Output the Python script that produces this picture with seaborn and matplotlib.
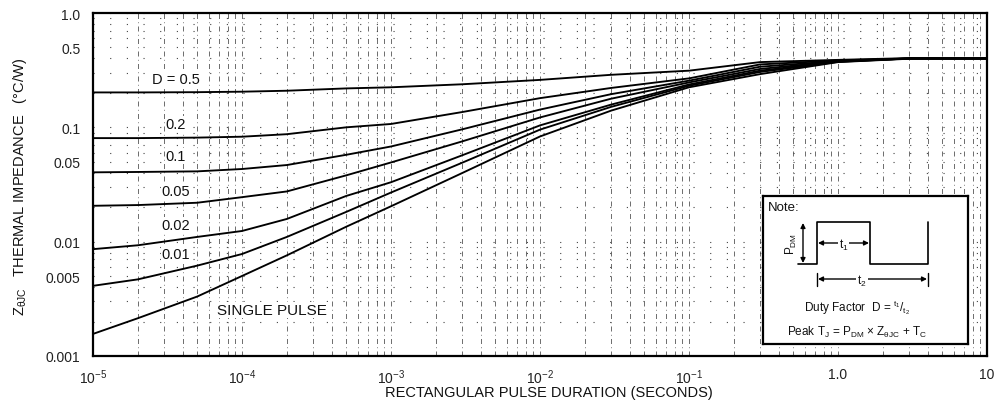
import numpy as np
import pandas as pd
import matplotlib
matplotlib.use("Agg")
import matplotlib.pyplot as plt
from matplotlib.ticker import FixedLocator, NullFormatter, LogLocator
import seaborn as sns

# ---------------- data ----------------
pulse_duration = [1e-5, 2e-5, 5e-5, 1e-4, 2e-4, 5e-4, 1e-3, 3e-3, 1e-2, 3e-2, 1e-1, 3e-1, 1.0, 3.0, 10.0]
z_d050 = [0.202, 0.202, 0.203, 0.205, 0.209, 0.219, 0.224, 0.238, 0.260, 0.288, 0.313, 0.372, 0.389, 0.403, 0.403]
z_d020 = [0.0805, 0.0805, 0.0813, 0.0828, 0.0871, 0.100, 0.107, 0.136, 0.180, 0.221, 0.268, 0.355, 0.385, 0.400, 0.400]
z_d010 = [0.0404, 0.0407, 0.0412, 0.0432, 0.0468, 0.0575, 0.068, 0.096, 0.143, 0.195, 0.256, 0.339, 0.380, 0.400, 0.400]
z_d005 = [0.0206, 0.0209, 0.0219, 0.0245, 0.0275, 0.038, 0.0493, 0.0753, 0.122, 0.178, 0.247, 0.324, 0.378, 0.400, 0.400]
z_d002 = [0.0086, 0.0093, 0.0110, 0.0124, 0.0158, 0.0251, 0.0331, 0.0569, 0.104, 0.158, 0.237, 0.313, 0.376, 0.400, 0.400]
z_d001 = [0.00411, 0.00468, 0.00617, 0.0078, 0.0110, 0.0182, 0.0269, 0.049, 0.0955, 0.151, 0.231, 0.305, 0.374, 0.400, 0.400]
z_single = [0.00156, 0.00214, 0.00331, 0.00501, 0.00759, 0.0135, 0.0204, 0.0398, 0.0832, 0.140, 0.224, 0.292, 0.372, 0.398, 0.398]

series_names = ["D = 0.5", "0.2", "0.1", "0.05", "0.02", "0.01", "SINGLE PULSE"]
series_values = [z_d050, z_d020, z_d010, z_d005, z_d002, z_d001, z_single]

x_tick_values = [1e-5, 1e-4, 1e-3, 1e-2, 1e-1, 1.0, 10.0]
x_tick_labels = ["10$^{-5}$", "10$^{-4}$", "10$^{-3}$", "10$^{-2}$", "10$^{-1}$", "1.0", "10"]
y_tick_values = [0.001, 0.005, 0.01, 0.05, 0.1, 0.5, 1.0]
y_tick_labels = ["0.001", "0.005", "0.01", "0.05", "0.1", "0.5", "1.0"]

rows = []
for name, vals in zip(series_names, series_values):
    for t, z in zip(pulse_duration, vals):
        rows.append({"t": t, "z": z, "series": name})
df = pd.DataFrame(rows)

# ---------------- style ----------------
sns.set_theme(style="white")
plt.rcParams["font.family"] = ["Liberation Sans", "DejaVu Sans"]
plt.rcParams["mathtext.fontset"] = "custom"
plt.rcParams["mathtext.rm"] = "Liberation Sans"
plt.rcParams["mathtext.it"] = "Liberation Sans"
plt.rcParams["mathtext.bf"] = "Liberation Sans:bold"

W, H = 1001, 402
fig = plt.figure(figsize=(W / 100, H / 100), dpi=100)
L, R, T, B = 93, 987, 14, 357
ax = fig.add_axes([L / W, (H - B) / H, (R - L) / W, (B - T) / H])

sns.lineplot(data=df, x="t", y="z", hue="series", hue_order=series_names,
             palette=["black"] * len(series_names), legend=False, ax=ax,
             linewidth=1.35, sort=True)
ax.set_xlabel("")
ax.set_ylabel("")

ax.set_xscale("log")
ax.set_yscale("log")
ax.set_xlim(1e-5, 10)
ax.set_ylim(0.001, 1.0)

ax.xaxis.set_major_locator(FixedLocator(x_tick_values))
ax.set_xticklabels(x_tick_labels)
ax.yaxis.set_major_locator(FixedLocator(y_tick_values))
ax.set_yticklabels(y_tick_labels)
ax.xaxis.set_minor_locator(LogLocator(base=10, subs=np.arange(2, 10)))
ax.yaxis.set_minor_locator(LogLocator(base=10, subs=np.arange(2, 10)))
ax.xaxis.set_minor_formatter(NullFormatter())
ax.yaxis.set_minor_formatter(NullFormatter())
ax.tick_params(axis="both", which="both", length=0, labelsize=10, colors="#222222")
ax.tick_params(axis="x", pad=8)
ax.tick_params(axis="y", pad=9)

# grid: dash-dot vertical lines, sparse dotted horizontal lines
ax.grid(which="both", axis="x", color="#555555", linewidth=0.6,
        linestyle=(0, (6, 4, 1, 4)))
ax.grid(which="both", axis="y", color="#444444", linewidth=0.8,
        linestyle=(0, (1, 14)))

for s in ax.spines.values():
    s.set_color("black")
    s.set_linewidth(1.6)

# curve labels
lab_pos = [(3.6e-5, 0.265), (3.6e-5, 0.107), (3.6e-5, 0.056), (3.6e-5, 0.0277),
           (3.6e-5, 0.0140), (3.6e-5, 0.0078)]
for name, (lx, ly) in zip(series_names[:-1], lab_pos):
    ax.text(lx, ly, name, ha="center", va="center", fontsize=10.5, color="#111111",
            bbox=dict(facecolor="white", edgecolor="none", pad=0.5))
ax.text(6.8e-5, 0.00252, series_names[-1], ha="left", va="center",
        fontsize=11, color="#111111",
        bbox=dict(facecolor="white", edgecolor="none", pad=0.5))

# axis titles
fig.text(549 / W, 1 - 393 / H, "RECTANGULAR PULSE DURATION (SECONDS)",
         ha="center", va="center", fontsize=10.5, color="#111111")
fig.text(20 / W, 1 - 187 / H,
         r"Z$_{\theta\mathrm{JC}}$   THERMAL IMPEDANCE   (°C/W)",
         ha="center", va="center", rotation=90, fontsize=10.5, color="#111111")

# ---------------- inset note box ----------------
bx0, bx1, by0, by1 = 763, 968, 197, 345
iax = fig.add_axes([bx0 / W, (H - by1) / H, (bx1 - bx0) / W, (by1 - by0) / H])
iax.set_xlim(bx0, bx1)
iax.set_ylim(by1, by0)
iax.set_xticks([])
iax.set_yticks([])
iax.set_facecolor("white")
for s in iax.spines.values():
    s.set_color("black")
    s.set_linewidth(1.6)
iax.grid(False)

iax.text(768, 208, "Note:", ha="left", va="center", fontsize=9.5, color="#111111")
iax.plot([798, 817, 817, 870, 870, 928, 928], [265, 265, 223, 223, 265, 265, 223],
         color="black", linewidth=1.2)
# P_DM arrow
iax.annotate("", xy=(803, 224), xytext=(803, 264),
             arrowprops=dict(arrowstyle="<|-|>", color="black", lw=1.0,
                             mutation_scale=7, shrinkA=0, shrinkB=0))
iax.text(791, 244, r"P$_{\mathrm{DM}}$", rotation=90, ha="center", va="center",
         fontsize=8.5, color="#111111")
# t1 arrow
iax.annotate("", xy=(818, 244), xytext=(869, 244),
             arrowprops=dict(arrowstyle="<|-|>", color="black", lw=1.0,
                             mutation_scale=7, shrinkA=0, shrinkB=0))
iax.text(843.5, 245, r"t$_1$", ha="center", va="center", fontsize=8.5,
         color="#111111", bbox=dict(facecolor="white", edgecolor="none", pad=0.6))
# t2 arrow
iax.plot([817, 817], [274, 287], color="black", linewidth=1.0)
iax.plot([928, 928], [274, 287], color="black", linewidth=1.0)
iax.annotate("", xy=(818, 280), xytext=(927, 280),
             arrowprops=dict(arrowstyle="<|-|>", color="black", lw=1.0,
                             mutation_scale=7, shrinkA=0, shrinkB=0))
iax.text(862, 281, r"t$_2$", ha="center", va="center", fontsize=8.5,
         color="#111111", bbox=dict(facecolor="white", edgecolor="none", pad=0.6))
iax.text(857, 308, r"Duty Factor  D = $^{\mathrm{t}_1}$/$_{\mathrm{t}_2}$",
         ha="center", va="center", fontsize=8.5, color="#111111")
iax.text(857, 332,
         r"Peak T$_{\mathrm{J}}$ = P$_{\mathrm{DM}}$ × Z$_{\theta\mathrm{JC}}$ + T$_{\mathrm{C}}$",
         ha="center", va="center", fontsize=8.5, color="#111111")

fig.savefig("out.png", dpi=100, facecolor="white")
